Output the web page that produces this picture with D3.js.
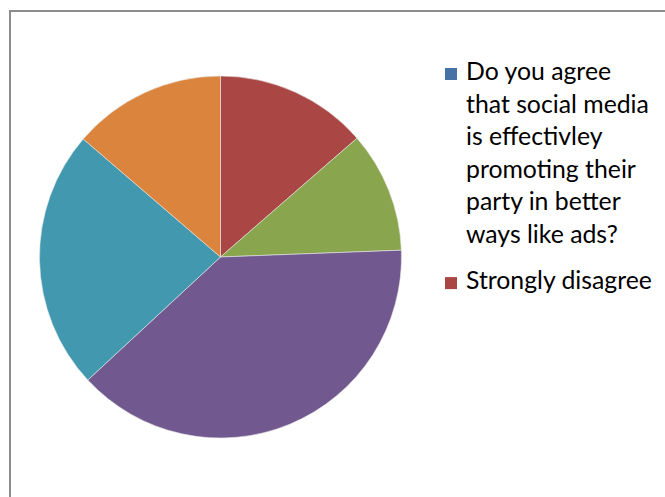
<!DOCTYPE html>
<html>
<head>
<meta charset="utf-8">
<script src="https://cdn.jsdelivr.net/npm/d3@7"></script>
<style>
  body { margin: 0; background: #fff; }
  svg { display: block; }
</style>
</head>
<body>
<div id="chart"></div>
<script>
// categories in sheet order; first one is the question header row (empty value)
const categories = [
  "Do you agree that social media is effectivley promoting their party in better ways like ads?",
  "Strongly disagree",
  "Disagree",
  "Neutral",
  "Agree",
  "Strongly agree",
];
const values = [0, 13.6, 10.8, 38.7, 23.2, 13.7];
const colors = ["#4572A7", "#AA4643", "#89A54E", "#71588F", "#4198AF", "#DB843D"];
// legend only has room for the first two entries (wrapped lines)
const legendLines = [
  ["Do you agree", "that social media", "is effectivley", "promoting their", "party in better", "ways like ads?"],
  ["Strongly disagree"],
];

const W = 665, H = 497;
const cx = 220.5, cy = 257, r = 181;

const svg = d3.select("#chart").append("svg")
  .attr("width", W)
  .attr("height", H);

// chart border (runs off the right and bottom of the picture)
svg.append("rect")
  .attr("x", 10)
  .attr("y", 11)
  .attr("width", 800)
  .attr("height", 800)
  .attr("fill", "#fff")
  .attr("stroke", "#8c8c8c")
  .attr("stroke-width", 2);

const data = categories.map((c, i) => ({ cat: c, value: values[i], color: colors[i] }));

const pie = d3.pie().sort(null).value((d) => d.value);
const arc = d3.arc().innerRadius(0).outerRadius(r);

svg.append("g")
  .attr("transform", `translate(${cx},${cy})`)
  .selectAll("path")
  .data(pie(data))
  .enter()
  .append("path")
  .attr("d", arc)
  .attr("fill", (d) => d.data.color)
  .attr("stroke", "#e8e8e8")
  .attr("stroke-width", 0.6);

// Legend
const legend = svg.append("g");
const lineH = 32.5;
const entryGap = 46.6;
let baseline = 80;

// fit font size so "that social media" spans about 183px
const probe = svg.append("text")
  .style("font-family", "Lato, 'Open Sans', sans-serif")
  .style("font-size", "24px")
  .text("that social media");
const probeW = probe.node().getComputedTextLength();
probe.remove();
const fontSize = 24 * 183 / probeW;

legendLines.forEach((lines, i) => {
  legend.append("rect")
    .attr("x", 445)
    .attr("y", baseline - 12)
    .attr("width", 12)
    .attr("height", 12)
    .attr("fill", colors[i]);

  lines.forEach((ln, j) => {
    legend.append("text")
      .attr("x", 466)
      .attr("y", baseline + j * lineH)
      .style("font-family", "Lato, 'Open Sans', sans-serif")
      .style("font-size", fontSize + "px")
      .attr("fill", "#000")
      .text(ln);
  });
  baseline += (lines.length - 1) * lineH + entryGap;
});
</script>
</body>
</html>
